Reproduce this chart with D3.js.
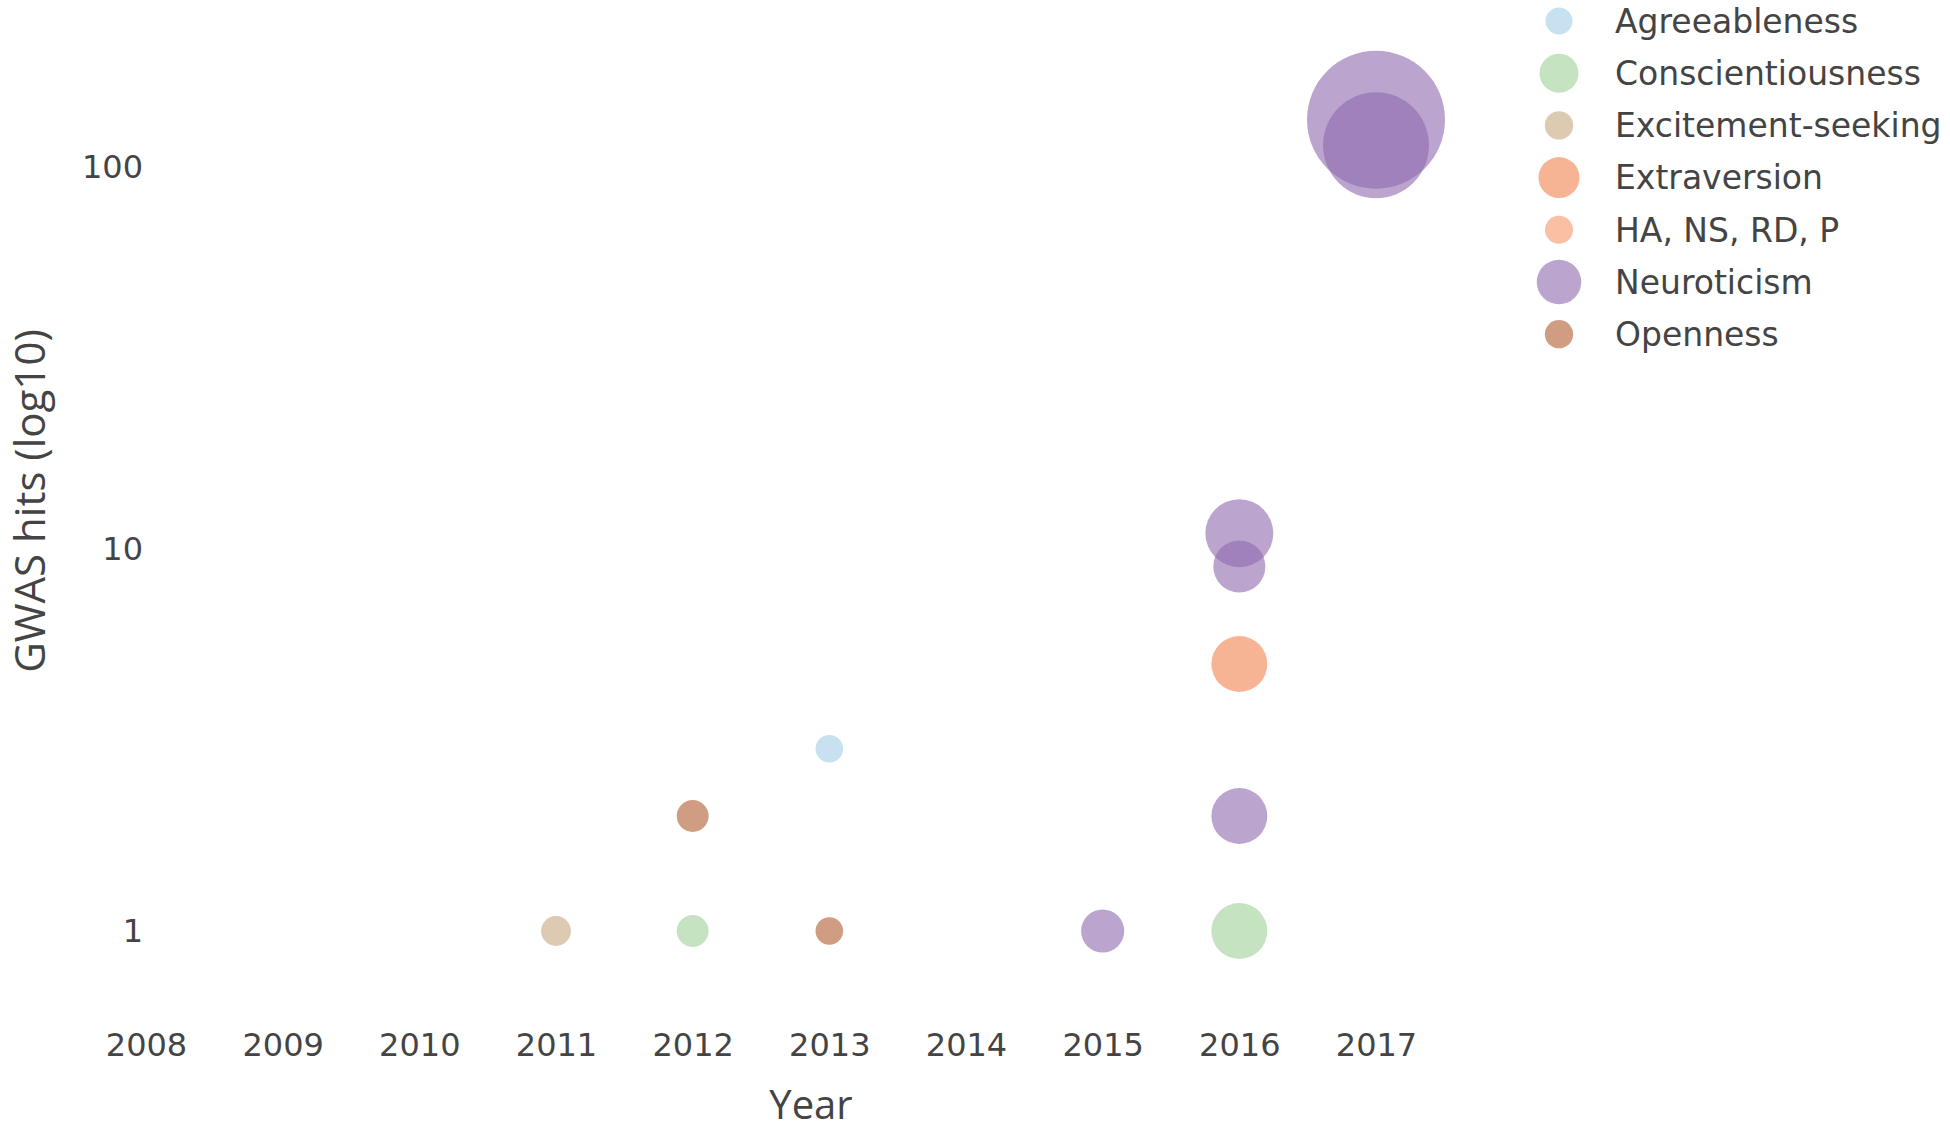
<!DOCTYPE html>
<html>
<head>
<meta charset="utf-8">
<script src="https://cdn.jsdelivr.net/npm/d3@7"></script>
<style>
  body { margin: 0; background: #fff; }
  text { fill: #444; }
</style>
</head>
<body>
<div id="chart"></div>
<script>
// legend order / categories
var traits = ["Agreeableness", "Conscientiousness", "Excitement-seeking", "Extraversion", "HA, NS, RD, P", "Neuroticism", "Openness"];

// one entry per bubble
var pointTrait = ["Agreeableness", "Conscientiousness", "Conscientiousness", "Excitement-seeking", "Extraversion",
                  "Neuroticism", "Neuroticism", "Neuroticism", "Neuroticism", "Neuroticism", "Neuroticism",
                  "Openness", "Openness"];
var pointYear  = [2013, 2012, 2016, 2011, 2016, 2015, 2016, 2016, 2016, 2017, 2017, 2012, 2013];
var pointHits  = [3, 1, 1, 1, 5, 1, 2, 9, 11, 133, 114, 2, 1];
var pointSize  = [18, 24, 74, 21, 74, 44, 74, 64, 109, 450, 265, 24, 18];   // relative sample size (bubble area)

var yearTicks = [2008, 2009, 2010, 2011, 2012, 2013, 2014, 2015, 2016, 2017];
var hitTicks = [1, 10, 100];

var colors = ["#a3cde8", "#9ed096", "#c5a780", "#f2824f", "#f59666", "#8e69af", "#b15c2f"];

var width = 1950, height = 1136;

var svg = d3.select("#chart")
  .append("svg")
    .attr("width", width)
    .attr("height", height);

// scales
var x = d3.scaleLinear().domain([2008, 2017]).range([146, 1376]);
var y = d3.scaleLog().domain([1, 100]).range([931, 167]);
var r = d3.scaleSqrt().domain([0, d3.max(pointSize)]).range([0, 69]);
var color = d3.scaleOrdinal().domain(traits).range(colors);

var points = pointYear.map(function(d, i) {
  return {trait: pointTrait[i], year: d, hits: pointHits[i], size: pointSize[i]};
});

// x axis (no line, no ticks)
var xAxis = svg.append("g")
    .attr("transform", "translate(0,1030)")
    .call(d3.axisBottom(x).tickValues(yearTicks).tickFormat(d3.format("d")).tickSize(0));
xAxis.select(".domain").remove();
xAxis.selectAll("text")
    .attr("dy", "0.71em")
    .style("font-family", "DejaVu Sans")
    .style("font-size", "32px")
    .style("fill", "#444");

// y axis
var yAxis = svg.append("g")
    .attr("transform", "translate(146,0)")
    .call(d3.axisLeft(y).tickValues(hitTicks).tickFormat(d3.format("d")).tickSize(0).tickPadding(3));
yAxis.select(".domain").remove();
yAxis.selectAll("text")
    .style("font-family", "DejaVu Sans")
    .style("font-size", "32px")
    .style("fill", "#444");

// axis titles
svg.append("text")
    .attr("x", 811)
    .attr("y", 1119)
    .attr("text-anchor", "middle")
    .style("font-family", "Open Sans")
    .style("font-size", "40px")
    .text("Year");

svg.append("text")
    .attr("transform", "translate(45,501) rotate(-90)")
    .attr("text-anchor", "middle")
    .style("font-family", "Open Sans")
    .style("font-size", "42px")
    .text("GWAS hits (log10)");

// bubbles
svg.append("g")
  .selectAll("circle")
  .data(points)
  .enter()
  .append("circle")
    .attr("cx", function(d) { return x(d.year); })
    .attr("cy", function(d) { return y(d.hits); })
    .attr("r", function(d) { return r(d.size); })
    .attr("fill", function(d) { return color(d.trait); })
    .attr("fill-opacity", 0.6);

// legend
var legendR = d3.scaleLinear().domain([14, 22, 40]).range([13.5, 19.5, 22.5]).clamp(true);
var legend = svg.append("g")
  .selectAll("g")
  .data(traits)
  .enter()
  .append("g")
    .attr("transform", function(d, i) { return "translate(1559," + (21 + i * 52.2) + ")"; });

legend.append("circle")
    .attr("r", function(t) {
      var sizes = points.filter(function(p) { return p.trait === t; }).map(function(p) { return r(p.size); });
      return sizes.length ? legendR(d3.mean(sizes)) : 14;
    })
    .attr("fill", function(t) { return color(t); })
    .attr("fill-opacity", 0.6);

legend.append("text")
    .attr("x", 56)
    .attr("dy", "0.36em")
    .style("font-family", "DejaVu Sans")
    .style("font-size", "33px")
    .text(function(t) { return t; });
</script>
</body>
</html>
